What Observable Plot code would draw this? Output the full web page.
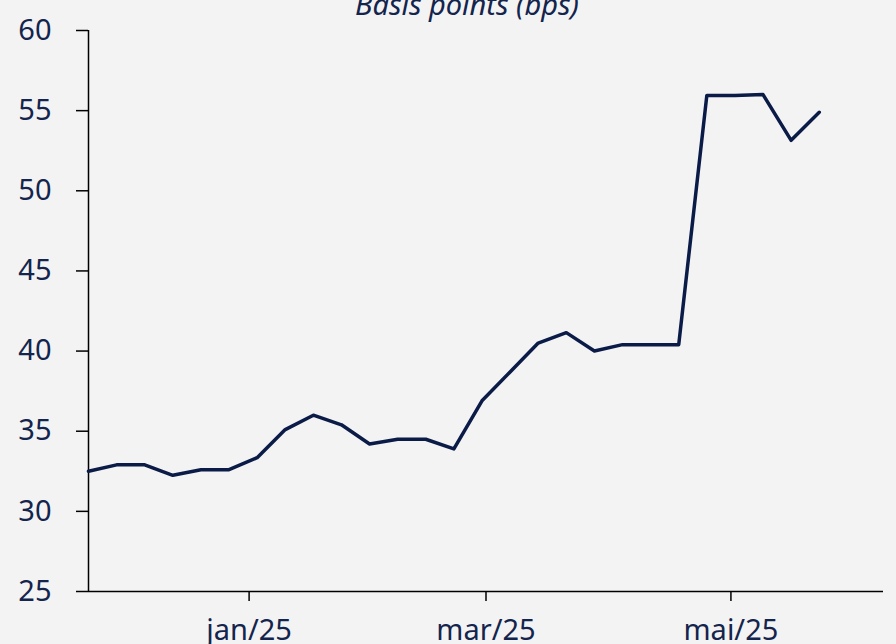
<!DOCTYPE html>
<html>
<head>
<meta charset="utf-8">
<script src="https://cdn.jsdelivr.net/npm/d3@7"></script>
<script src="https://cdn.jsdelivr.net/npm/@observablehq/plot@0.6"></script>
<style>
  html, body { margin: 0; padding: 0; background: #f3f3f3; }
  #chart { width: 896px; height: 644px; overflow: hidden; }
</style>
</head>
<body>
<div id="chart"></div>
<script>
const startDate = "2024-11-22";
const values = [32.5, 32.9, 32.9, 32.25, 32.6, 32.6, 33.35, 35.1, 36.0, 35.4, 34.2, 34.5, 34.5, 33.9,
  36.9, 38.7, 40.5, 41.15, 40.0, 40.4, 40.4, 40.4, 55.95, 55.95, 56.0, 53.15, 54.9];
const tickDates = ["2025-01-01", "2025-03-01", "2025-05-01"];
const tickLabels = ["jan/25", "mar/25", "mai/25"];
const yTicks = [25, 30, 35, 40, 45, 50, 55, 60];
const title = "Basis points (bps)";

const t0 = new Date(startDate + "T00:00:00Z");
const data = values.map((v, i) => ({ date: new Date(t0.getTime() + i * 7 * 86400000), value: v }));
const ticks = tickDates.map(d => new Date(d + "T00:00:00Z"));
const labelOf = new Map(ticks.map((d, i) => [+d, tickLabels[i]]));

const textColor = "#13244d";
const lineColor = "#0b1b47";
const font = "'Noto Sans', sans-serif";

const chart = Plot.plot({
  width: 896,
  height: 644,
  marginLeft: 88,
  marginRight: 13,
  marginTop: 30,
  marginBottom: 53,
  style: { background: "#f3f3f3", fontFamily: font, fontSize: "29px", color: textColor },
  x: { type: "utc", domain: [t0, new Date("2025-06-08T00:00:00Z")] },
  y: { domain: [25, 60] },
  marks: [
    Plot.axisY({ ticks: yTicks, tickSize: 12, tickPadding: 25, stroke: "#000", strokeWidth: 1.5, fill: textColor, label: null, fontSize: 29 }),
    Plot.axisX({ ticks: ticks, tickFormat: d => labelOf.get(+d), tickSize: 10, tickPadding: 18, stroke: "#000", strokeWidth: 1.5, fill: textColor, label: null, fontSize: 29 }),
    Plot.ruleX([t0], { stroke: "#000", strokeWidth: 1.5 }),
    Plot.ruleY([25], { stroke: "#000", strokeWidth: 1.5 }),
    Plot.lineY(data, { x: "date", y: "value", stroke: lineColor, strokeWidth: 3.5, strokeLinejoin: "round", strokeLinecap: "round" }),
    Plot.text([title], { frameAnchor: "top", dx: -19, dy: -16, lineAnchor: "bottom", fill: textColor, fontStyle: "italic", fontSize: 29 })
  ]
});
document.getElementById("chart").appendChild(chart);
</script>
</body>
</html>
